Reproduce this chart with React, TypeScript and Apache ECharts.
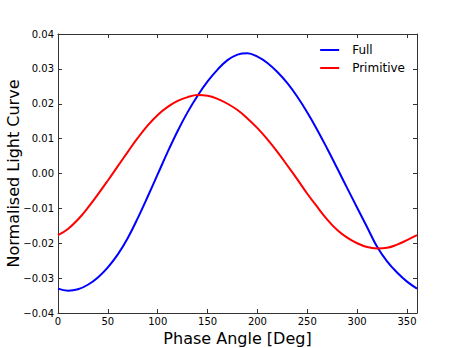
import React, { useEffect, useRef } from "react";
import * as echarts from "echarts";

const phaseDeg = [0, 10, 20, 30, 40, 50, 60, 70, 80, 90, 100, 110, 120, 130, 140, 150, 160, 170, 180, 190, 200, 210, 220, 230, 240, 250, 260, 270, 280, 290, 300, 310, 320, 330, 340, 350, 360];
const fullCurve = [-0.0330, -0.0336, -0.0332, -0.0319, -0.0298, -0.0269, -0.0232, -0.0185, -0.0128, -0.0066, -0.0002, 0.0062, 0.0122, 0.0176, 0.0223, 0.0264, 0.0298, 0.0325, 0.0341, 0.0345, 0.0335, 0.0317, 0.0291, 0.0259, 0.0220, 0.0175, 0.0125, 0.0071, 0.0015, -0.0042, -0.0098, -0.0154, -0.0210, -0.0252, -0.0284, -0.0310, -0.0330];
const primitiveCurve = [-0.0177, -0.0159, -0.0132, -0.0098, -0.0060, -0.0020, 0.0021, 0.0062, 0.0102, 0.0138, 0.0168, 0.0191, 0.0208, 0.0219, 0.0225, 0.0223, 0.0214, 0.0200, 0.0182, 0.0158, 0.0130, 0.0098, 0.0062, 0.0023, -0.0017, -0.0058, -0.0096, -0.0132, -0.0162, -0.0184, -0.0200, -0.0211, -0.0215, -0.0213, -0.0204, -0.0191, -0.0177];
const seriesNames = ["Full", "Primitive"];
const xTitle = "Phase Angle [Deg]";
const yTitle = "Normalised Light Curve";

const FONT = "DejaVu Sans";

export default function App() {
  const ref = useRef<HTMLDivElement>(null);
  useEffect(() => {
    if (!ref.current) return;
    const chart = echarts.init(ref.current, null, { renderer: "svg" });
    const fmtY = (v: number) => v.toFixed(2).replace("-", "\u2212");
    const axisLine = { show: true, onZero: false, lineStyle: { color: "#333", width: 1 } };
    const axisTick = { show: true, inside: true, length: 4, lineStyle: { color: "#333" } };
    chart.setOption({
      animation: false,
      backgroundColor: "#fff",
      textStyle: { fontFamily: FONT },
      grid: { left: 58, right: 46, top: 34, bottom: 35, containLabel: false, outerBoundsMode: "none" },
      graphic: [
        {
          type: "text",
          x: 13,
          y: 173.5,
          rotation: Math.PI / 2,
          style: {
            text: yTitle,
            font: `16px "${FONT}"`,
            fill: "#000",
            align: "center",
            verticalAlign: "middle",
          },
        },
      ],
      legend: {
        orient: "vertical",
        right: 58,
        top: 43,
        padding: 0,
        icon: "rect",
        itemWidth: 19,
        itemHeight: 2,
        itemGap: 4,
        data: seriesNames.map((n) => ({ name: n })),
        textStyle: { fontFamily: FONT, fontSize: 12, color: "#000", padding: [0, 0, 0, 8], lineHeight: 14 },
      },
      xAxis: [
        {
          type: "value",
          min: 0,
          max: 360,
          interval: 50,
          name: xTitle,
          nameLocation: "middle",
          nameGap: 16,
          nameTextStyle: { fontFamily: FONT, fontSize: 16, color: "#000" },
          axisLine,
          axisTick,
          splitLine: { show: false },
          axisLabel: {
            fontFamily: FONT,
            fontSize: 10,
            color: "#000",
            margin: 3,
            showMaxLabel: false,
            formatter: (v: number) => (v === 360 ? "" : String(v)),
          },
        },
        {
          type: "value",
          position: "top",
          min: 0,
          max: 360,
          interval: 50,
          axisLine,
          axisTick,
          splitLine: { show: false },
          axisLabel: { show: false },
        },
      ],
      yAxis: [
        {
          type: "value",
          min: -0.04,
          max: 0.04,
          interval: 0.01,
          axisLine,
          axisTick,
          splitLine: { show: false },
          axisLabel: { fontFamily: FONT, fontSize: 10, color: "#000", margin: 4, formatter: fmtY },
        },
        {
          type: "value",
          position: "right",
          min: -0.04,
          max: 0.04,
          interval: 0.01,
          axisLine,
          axisTick,
          splitLine: { show: false },
          axisLabel: { show: false },
        },
      ],
      series: [
        {
          name: seriesNames[0],
          type: "line",
          data: phaseDeg.map((x, i) => [x, fullCurve[i]]),
          smooth: 0.4,
          symbol: "none",
          lineStyle: { color: "#0000ff", width: 2 },
          itemStyle: { color: "#0000ff" },
        },
        {
          name: seriesNames[1],
          type: "line",
          data: phaseDeg.map((x, i) => [x, primitiveCurve[i]]),
          smooth: 0.4,
          symbol: "none",
          lineStyle: { color: "#ff0000", width: 2 },
          itemStyle: { color: "#ff0000" },
        },
      ],
    });
    return () => chart.dispose();
  }, []);
  return (
    <div
      ref={ref}
      style={{ position: "absolute", left: 0, top: 0, width: 463, height: 348 }}
    />
  );
}
